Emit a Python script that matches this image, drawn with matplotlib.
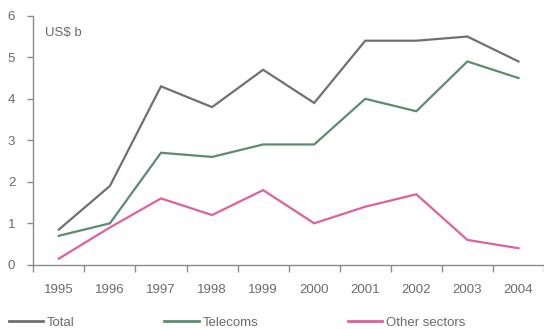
import matplotlib.pyplot as plt
from matplotlib.lines import Line2D

years = ['1995', '1996', '1997', '1998', '1999', '2000', '2001', '2002', '2003', '2004']
total = [0.85, 1.9, 4.3, 3.8, 4.7, 3.9, 5.4, 5.4, 5.5, 4.9]
telecoms = [0.7, 1.0, 2.7, 2.6, 2.9, 2.9, 4.0, 3.7, 4.9, 4.5]
other = [0.15, 0.9, 1.6, 1.2, 1.8, 1.0, 1.4, 1.7, 0.6, 0.4]

series_names = ['Total', 'Telecoms', 'Other sectors']
series_colors = ['#707070', '#5b8c70', '#e0609f']
text_color = '#6b6b6b'

plt.rcParams['font.family'] = ['Liberation Sans', 'DejaVu Sans']

fig = plt.figure(figsize=(5.44, 3.29), dpi=100)
ax = fig.add_axes([0.0612, 0.195, 0.9388, 0.757])

x = list(range(len(years)))
for vals, color in zip([total, telecoms, other], series_colors):
    ax.plot(x, vals, color=color, linewidth=1.6, solid_joinstyle='miter')

ax.set_ylim(0, 6)
ax.set_xlim(-0.5, 9.47)
ax.set_yticks(range(7))
ax.set_xticks(x)
ax.set_xticklabels(years)
ax.set_xticks([i - 0.5 for i in range(11)], minor=True)

for s in ['top', 'right']:
    ax.spines[s].set_visible(False)
for s in ['left', 'bottom']:
    ax.spines[s].set_color('#8a8a8a')
    ax.spines[s].set_linewidth(1.0)

ax.tick_params(axis='y', length=4, width=1, color='#8a8a8a', pad=9,
               labelsize=9.5, labelcolor=text_color)
ax.tick_params(axis='x', which='major', length=0, pad=14,
               labelsize=9.5, labelcolor=text_color)
ax.tick_params(axis='x', which='minor', length=5, width=1, color='#8a8a8a')

ax.text(0.022, 0.93, 'US$ b', transform=ax.transAxes, fontsize=9.5,
        color=text_color, va='center', ha='left')

handles = [Line2D([], [], color=c, linewidth=2) for c in series_colors]
fig.legend(handles, series_names, loc='center left', bbox_to_anchor=(-0.006, 0.019),
           ncol=3, frameon=False, fontsize=9.5, labelcolor=text_color,
           handlelength=2.6, handletextpad=0.3, columnspacing=6.8)

fig.savefig('out.png', dpi=100)
